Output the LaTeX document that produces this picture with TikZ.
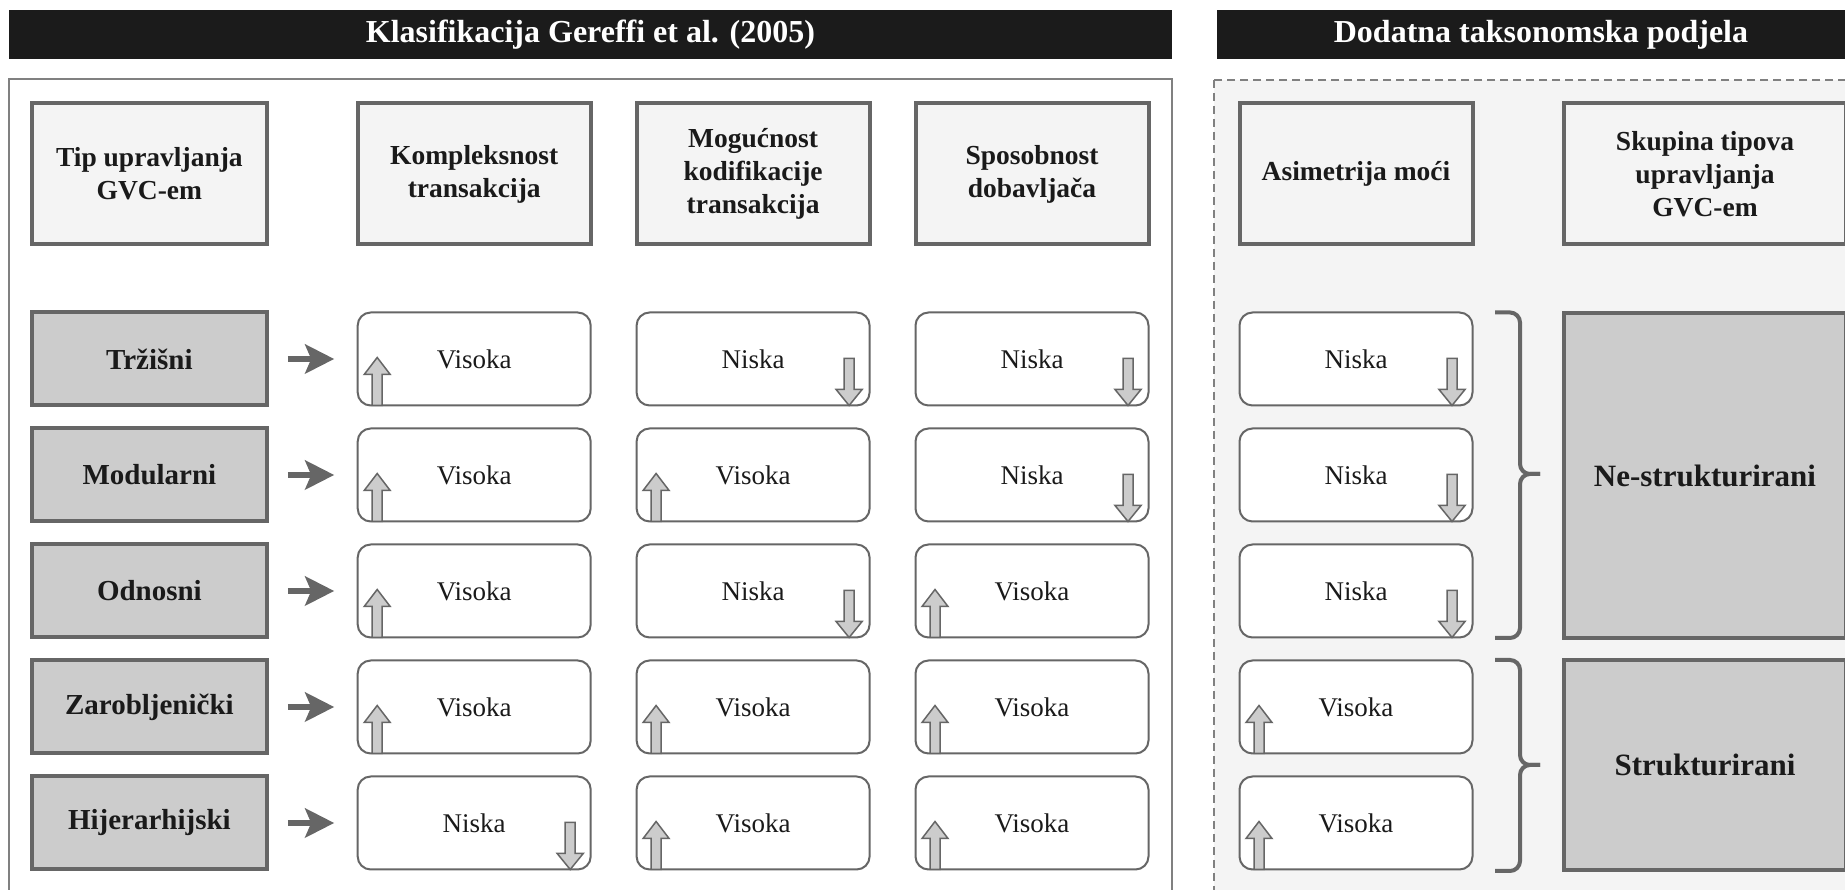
\documentclass[tikz,border=0pt]{standalone}
\usepackage{fontspec}
\setmainfont{Liberation Serif}
\usetikzlibrary{arrows.meta,calc}

\definecolor{barblack}{HTML}{1B1B1B}
\definecolor{edgegray}{HTML}{666666}
\definecolor{framegray}{HTML}{808080}
\definecolor{paleface}{HTML}{F4F4F4}
\definecolor{midface}{HTML}{CCCCCC}
\definecolor{inkblack}{HTML}{1A1A1A}

\tikzset{
  headbox/.style={draw=edgegray, line width=4pt, fill=paleface, minimum width=233pt, minimum height=141pt,
    align=center, text=inkblack, font=\fontsize{27.5}{33}\selectfont\bfseries},
  rowbox/.style={draw=edgegray, line width=4pt, fill=midface, minimum width=235pt, minimum height=93pt,
    text=inkblack, font=\fontsize{29}{35}\selectfont\bfseries},
  valbox/.style={draw=edgegray, line width=2pt, fill=white, rounded corners=13pt, minimum width=233pt,
    minimum height=93pt, outer sep=0pt, text=inkblack, font=\fontsize{27}{32}\selectfont},
  groupbox/.style={draw=edgegray, line width=4pt, fill=midface, minimum width=282pt,
    text=inkblack, font=\fontsize{31}{37}\selectfont\bfseries},
  titlebar/.style={fill=barblack, text=white, minimum height=49pt, inner sep=0pt,
    font=\fontsize{32}{38}\selectfont\bfseries},
  markarr/.style={draw=edgegray, line width=1.5pt, fill=midface},
  flow/.style={draw=edgegray, line width=6pt, -{Stealth[length=29pt,width=29pt,inset=6pt]},
    shorten <=19pt, shorten >=23.5pt},
  bracket/.style={draw=edgegray, line width=4pt, rounded corners=10pt},
}

% value box with up mark (Visoka) or down mark (Niska)
\newcommand\visoka[2]{%
  \node[valbox] (#1) at (#2) {Visoka};
  \draw[markarr] ($(#1.south west)+(14.5,0)$) -- ++(0,31) -- ++(-8,0) -- ++(13,17)
    -- ++(13,-17) -- ++(-8,0) -- ++(0,-31) -- cycle;}
\newcommand\niska[2]{%
  \node[valbox] (#1) at (#2) {Niska};
  \draw[markarr] ($(#1.south east)+(-25.5,47)$) -- ++(0,-31) -- ++(-8,0) -- ++(13,-16)
    -- ++(13,16) -- ++(-8,0) -- ++(0,31) -- cycle;}

\begin{document}
\begin{tikzpicture}[x=1pt,y=1pt]
  \useasboundingbox (0,0) rectangle (1845,890);

  % panels
  \draw[framegray, line width=2pt, fill=white] (8.7,811) rectangle (1172,-20);
  \draw[framegray, line width=1.5pt, dash pattern=on 8pt off 5pt, fill=paleface] (1214,810) rectangle (1870,-20);

  % title bars
  \node[titlebar, minimum width=1163pt] (lefttitle) at (590.4,855.5) {Klasifikacija Gereffi et al. (2005)};
  \node[titlebar, minimum width=648pt] (righttitle) at (1541,855.5) {Dodatna taksonomska podjela};

  % headers
  \node[headbox, minimum width=235pt] (htip) at (149.4,716) {Tip upravljanja\\GVC-em};
  \node[headbox] (hkom) at (474.2,716) {Kompleksnost\\transakcija};
  \node[headbox] (hmog) at (753.1,716) {Mogućnost\\kodifikacije\\transakcija};
  \node[headbox] (hspo) at (1032,716) {Sposobnost\\dobavljača};
  \node[headbox] (hasi) at (1356,716) {Asimetrija moći};
  \node[headbox, minimum width=282pt] (hsku) at (1705,716) {Skupina tipova\\upravljanja\\GVC-em};

  % governance types
  \node[rowbox] (r1) at (149.4,531) {Tržišni};
  \node[rowbox] (r2) at (149.4,415) {Modularni};
  \node[rowbox] (r3) at (149.4,299) {Odnosni};
  \node[rowbox] (r4) at (149.4,183) {Zarobljenički};
  \node[rowbox] (r5) at (149.4,67) {Hijerarhijski};

  \visoka{k1}{474.2,531} \niska{m1}{753.1,531}  \niska{s1}{1032,531}  \niska{a1}{1356,531}
  \visoka{k2}{474.2,415} \visoka{m2}{753.1,415} \niska{s2}{1032,415}  \niska{a2}{1356,415}
  \visoka{k3}{474.2,299} \niska{m3}{753.1,299}  \visoka{s3}{1032,299} \niska{a3}{1356,299}
  \visoka{k4}{474.2,183} \visoka{m4}{753.1,183} \visoka{s4}{1032,183} \visoka{a4}{1356,183}
  \niska{k5}{474.2,67}   \visoka{m5}{753.1,67}  \visoka{s5}{1032,67}  \visoka{a5}{1356,67}

  \draw[flow] (r1) -- (k1);
  \draw[flow] (r2) -- (k2);
  \draw[flow] (r3) -- (k3);
  \draw[flow] (r4) -- (k4);
  \draw[flow] (r5) -- (k5);

  % groups
  \node[groupbox, minimum height=325pt] (gne) at (1705,414.5) {Ne-strukturirani};
  \node[groupbox, minimum height=210pt] (gst) at (1705,125) {Strukturirani};

  \draw[bracket] (1495,577.5) -- (1520,577.5) -- (1520,416) -- (1540,416);
  \draw[bracket] (1495,252) -- (1520,252) -- (1520,416) -- (1540,416);
  \draw[bracket] (1495,230) -- (1520,230) -- (1520,125) -- (1540,125);
  \draw[bracket] (1495,19) -- (1520,19) -- (1520,125) -- (1540,125);
\end{tikzpicture}
\end{document}
